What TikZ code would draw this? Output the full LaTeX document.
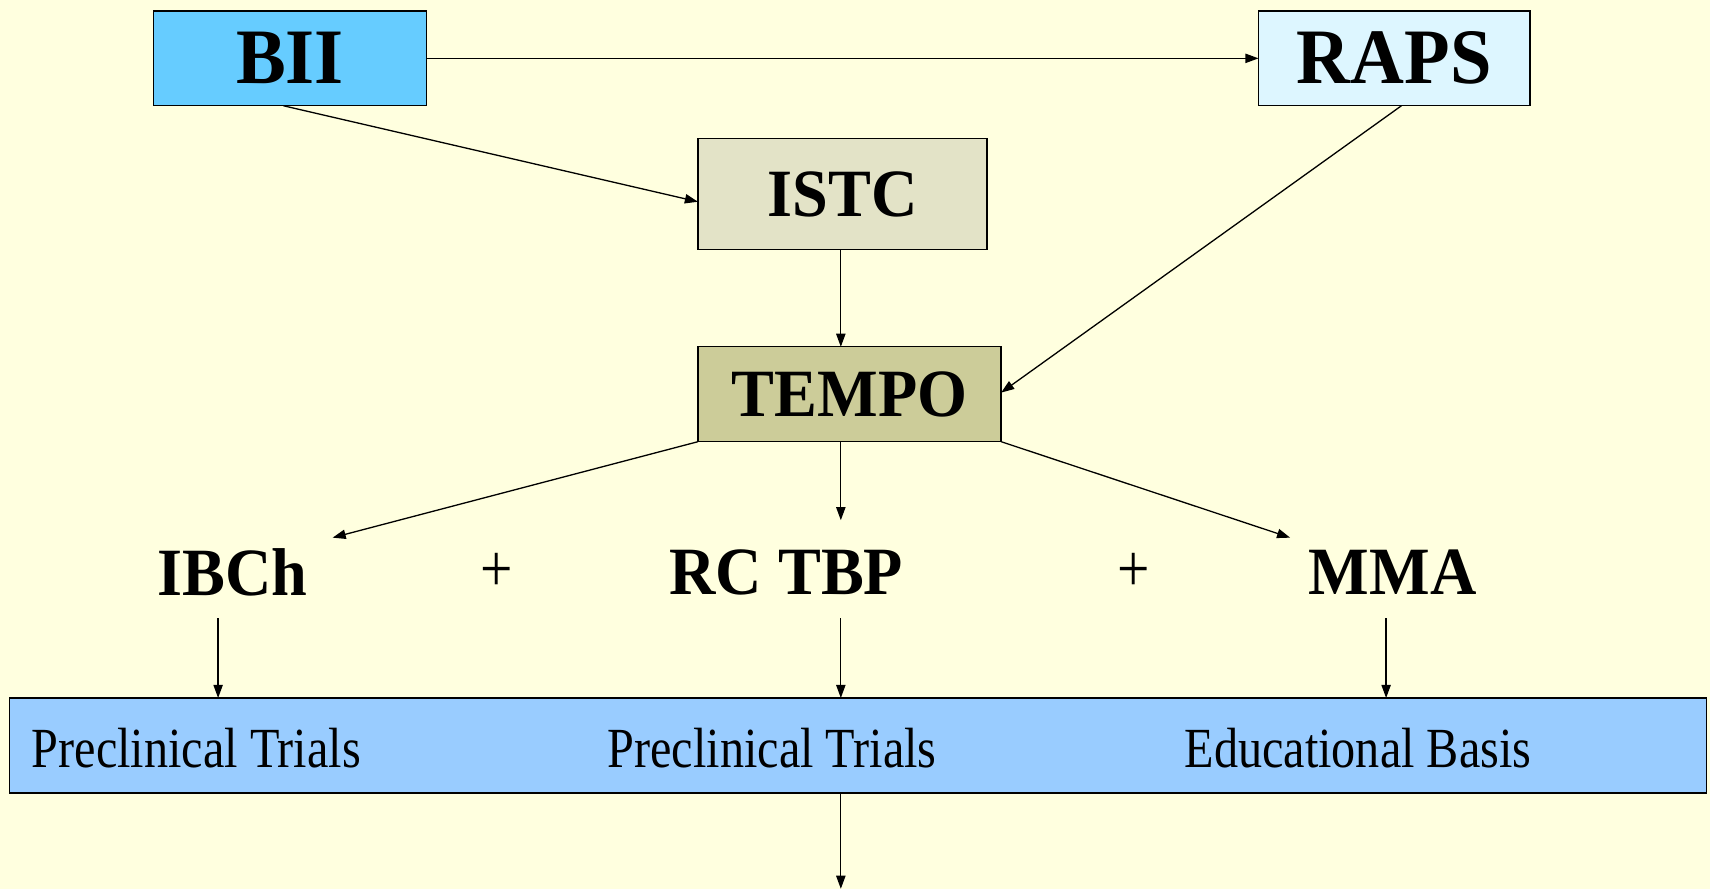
\documentclass[tikz,border=0pt]{standalone}
\usepackage{fontspec}
\setmainfont{Liberation Serif}
\newfontfamily\bfc[FakeStretch=0.95]{Liberation Serif}
\newfontfamily\rmc[FakeStretch=0.85]{Liberation Serif}
\usetikzlibrary{arrows.meta}
\definecolor{bgyellow}{HTML}{FFFFDF}
\definecolor{biiblue}{HTML}{66CCFF}
\definecolor{rapsblue}{HTML}{DDF6FF}
\definecolor{istcgrey}{HTML}{E3E3C7}
\definecolor{tempoolive}{HTML}{CCCC99}
\definecolor{basisblue}{HTML}{99CCFF}
\begin{document}
\begin{tikzpicture}[x=1pt,y=-1pt,
  box/.style={draw=black, line width=1.2pt, inner sep=0pt, outer sep=0pt},
  bigtext/.style={font=\bfc\bfseries\fontsize{72}{80}\selectfont},
  midtext/.style={font=\bfc\bfseries\fontsize{62}{70}\selectfont},
  plustext/.style={font=\rmc\fontsize{62}{70}\selectfont},
  lowtext/.style={font=\rmc\fontsize{52}{60}\selectfont, inner sep=0pt, anchor=west},
  lbl/.style={inner sep=0pt},
  arr/.style={line width=1.2pt, -{Triangle[length=12pt,width=8.5pt]}}]
\fill[bgyellow] (0,0) rectangle (1568,815);
\useasboundingbox (0,0) rectangle (1568,815);

% boxes
\node[box, fill=biiblue, minimum width=250pt, minimum height=87pt, bigtext] (bii) at (266,53.5) {BII};
\node[box, fill=rapsblue, minimum width=249pt, minimum height=87pt, bigtext] (raps) at (1278.5,53.5) {RAPS};
\node[box, fill=istcgrey, minimum width=265pt, minimum height=102pt, midtext] (istc) at (772.5,178) {ISTC};
\node[box, fill=tempoolive, minimum width=278pt, minimum height=87pt, midtext] (tempo) at (779,361.5) {TEMPO};
\node[box, fill=basisblue, minimum width=1556pt, minimum height=87pt] (basis) at (787,683.5) {};

% labels
\node[lbl, midtext] (ibch) at (213,525) {IBCh};
\node[lbl, plustext] (plus1) at (455,525) {+};
\node[lbl, midtext] (rctbp) at (721,525) {RC TBP};
\node[lbl, plustext] (plus2) at (1040,525) {+};
\node[lbl, midtext] (mma) at (1277,525) {MMA};

% bottom texts
\node[lowtext] (t1) at (29,686) {Preclinical Trials};
\node[lowtext] (t2) at (557,686) {Preclinical Trials};
\node[lowtext] (t3) at (1086,686) {Educational Basis};

% connector free ends
\coordinate (c1) at (305,493);
\coordinate (c2) at (771,477);
\coordinate (c3) at (1183,493);
\coordinate (d1) at (200,567);
\coordinate (d2) at (771,567);
\coordinate (d3) at (1271,567);
\coordinate (e) at (771,815);

% connectors
\draw[arr] (bii.east) -- (raps.west);
\draw[arr] ([xshift=-6pt]bii.south) -- ([yshift=-7pt]istc.west);
\draw[arr] (istc.south -| c2) -- (tempo.north -| c2);
\draw[arr] ([xshift=6.5pt]raps.south) -- ([yshift=1.5pt]tempo.east);
\draw[arr] (tempo.south west) -- (c1);
\draw[arr] (tempo.south -| c2) -- (c2);
\draw[arr] (tempo.south east) -- (c3);
\draw[arr] (d1) -- (basis.north -| d1);
\draw[arr] (d2) -- (basis.north -| d2);
\draw[arr] (d3) -- (basis.north -| d3);
\draw[arr] (basis.south -| e) -- (e);
\end{tikzpicture}
\end{document}
